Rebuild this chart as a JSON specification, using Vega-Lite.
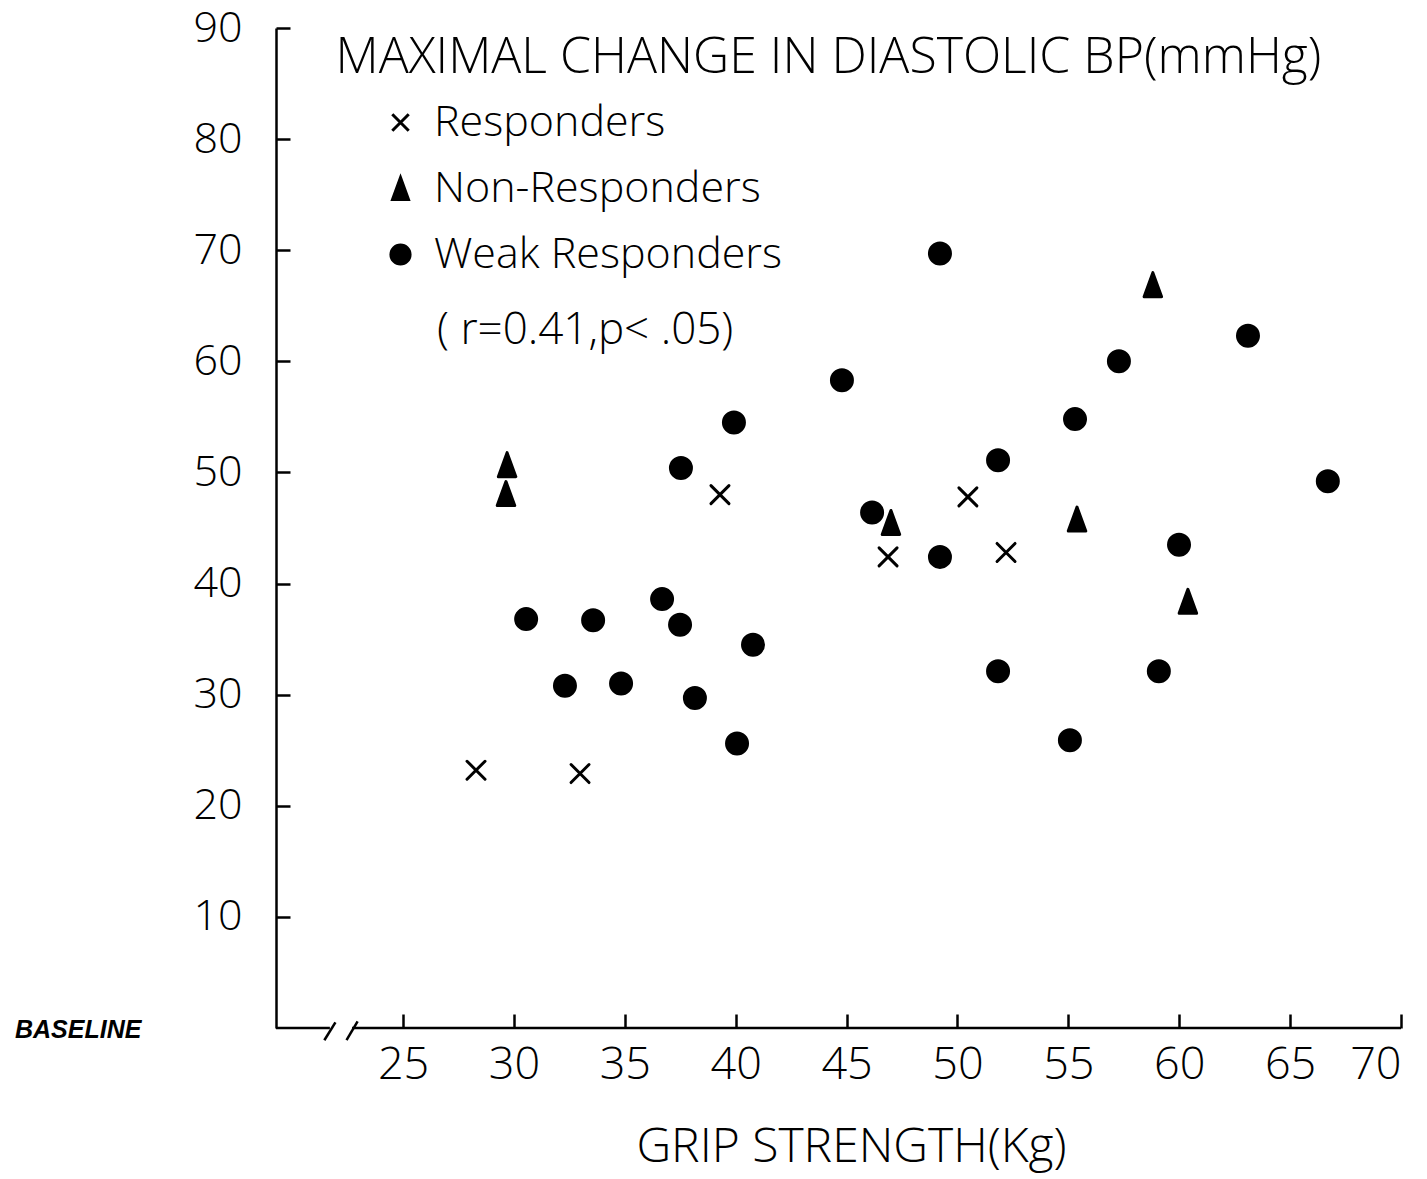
{
  "$schema": "https://vega.github.io/schema/vega-lite/v6.json",
  "width": 1125,
  "height": 1000,
  "autosize": {"type": "none"},
  "padding": {"left": 276, "top": 28, "right": 26, "bottom": 151},
  "background": "white",
  "config": {
    "view": {"stroke": null},
    "font": "Open Sans",
    "axis": {"grid": false}
  },
  "layer": [
    {
      "data": {
        "values": [
          {"grip": 28.29, "dbp": 23.2, "group": "Responders"},
          {"grip": 32.98, "dbp": 22.9, "group": "Responders"},
          {"grip": 39.29, "dbp": 48.0, "group": "Responders"},
          {"grip": 46.87, "dbp": 42.4, "group": "Responders"},
          {"grip": 50.47, "dbp": 47.8, "group": "Responders"},
          {"grip": 52.19, "dbp": 42.8, "group": "Responders"},
          {"grip": 29.69, "dbp": 50.7, "group": "Non-Responders"},
          {"grip": 29.64, "dbp": 48.1, "group": "Non-Responders"},
          {"grip": 47.0, "dbp": 45.5, "group": "Non-Responders"},
          {"grip": 58.81, "dbp": 66.9, "group": "Non-Responders"},
          {"grip": 55.39, "dbp": 45.8, "group": "Non-Responders"},
          {"grip": 60.39, "dbp": 38.4, "group": "Non-Responders"},
          {"grip": 49.21, "dbp": 69.7, "group": "Weak Responders"},
          {"grip": 44.79, "dbp": 58.3, "group": "Weak Responders"},
          {"grip": 39.92, "dbp": 54.5, "group": "Weak Responders"},
          {"grip": 37.53, "dbp": 50.4, "group": "Weak Responders"},
          {"grip": 57.28, "dbp": 60.0, "group": "Weak Responders"},
          {"grip": 63.1, "dbp": 62.3, "group": "Weak Responders"},
          {"grip": 55.3, "dbp": 54.8, "group": "Weak Responders"},
          {"grip": 51.83, "dbp": 51.1, "group": "Weak Responders"},
          {"grip": 46.15, "dbp": 46.4, "group": "Weak Responders"},
          {"grip": 49.21, "dbp": 42.4, "group": "Weak Responders"},
          {"grip": 66.7, "dbp": 49.2, "group": "Weak Responders"},
          {"grip": 59.99, "dbp": 43.5, "group": "Weak Responders"},
          {"grip": 30.55, "dbp": 36.8, "group": "Weak Responders"},
          {"grip": 33.57, "dbp": 36.7, "group": "Weak Responders"},
          {"grip": 36.68, "dbp": 38.6, "group": "Weak Responders"},
          {"grip": 37.49, "dbp": 36.3, "group": "Weak Responders"},
          {"grip": 40.78, "dbp": 34.5, "group": "Weak Responders"},
          {"grip": 32.3, "dbp": 30.8, "group": "Weak Responders"},
          {"grip": 34.83, "dbp": 31.0, "group": "Weak Responders"},
          {"grip": 38.16, "dbp": 29.7, "group": "Weak Responders"},
          {"grip": 40.06, "dbp": 25.6, "group": "Weak Responders"},
          {"grip": 51.83, "dbp": 32.1, "group": "Weak Responders"},
          {"grip": 59.08, "dbp": 32.1, "group": "Weak Responders"},
          {"grip": 55.07, "dbp": 25.9, "group": "Weak Responders"}
        ]
      },
      "mark": {
        "type": "point",
        "filled": true,
        "fill": "black",
        "strokeWidth": 3,
        "strokeJoin": "round",
        "strokeCap": "round",
        "opacity": 1,
        "size": 625
      },
      "encoding": {
        "x": {
          "field": "grip",
          "type": "quantitative",
          "scale": {"domain": [19.27, 70], "nice": false, "zero": false},
          "axis": {
            "values": [25, 30, 35, 40, 45, 50, 55, 60, 65, 70],
            "domain": false,
            "ticks": true,
            "tickSize": -14,
            "tickWidth": 2.5,
            "tickColor": "black",
            "labelFont": "Open Sans",
            "labelFontSize": 45,
            "labelFontWeight": 300,
            "labelColor": "black",
            "labelPadding": 28,
            "labelBaseline": "top",
            "title": "GRIP STRENGTH(Kg)",
            "titleFont": "Open Sans",
            "titleFontSize": 48,
            "titleFontWeight": 300,
            "titleColor": "black",
            "titleAlign": "center",
            "titleBaseline": "alphabetic",
            "titleX": 575,
            "titleY": 133
          }
        },
        "y": {
          "field": "dbp",
          "type": "quantitative",
          "scale": {"domain": [0, 90], "nice": false, "zero": false},
          "axis": {
            "values": [10, 20, 30, 40, 50, 60, 70, 80, 90],
            "domain": true,
            "domainWidth": 2.5,
            "domainColor": "black",
            "tickSize": -14,
            "tickWidth": 2.5,
            "tickColor": "black",
            "labelFont": "Open Sans",
            "labelFontSize": 43,
            "labelFontWeight": 300,
            "labelColor": "black",
            "labelPadding": 48,
            "labelBaseline": "middle",
            "title": "MAXIMAL CHANGE IN DIASTOLIC BP(mmHg)",
            "titleFont": "Open Sans",
            "titleFontSize": 50,
            "titleFontWeight": 300,
            "titleColor": "black",
            "titleAngle": 0,
            "titleAlign": "left",
            "titleBaseline": "alphabetic",
            "titleX": 59,
            "titleY": 44
          }
        },
        "stroke": {
          "field": "group",
          "type": "nominal",
          "scale": {
            "domain": ["Responders", "Non-Responders", "Weak Responders"],
            "range": ["black", "black", "black"]
          }
        },
        "shape": {
          "field": "group",
          "type": "nominal",
          "scale": {
            "domain": ["Responders", "Non-Responders", "Weak Responders"],
            "range": [
              "M-0.72,-0.72L0.72,0.72M-0.72,0.72L0.72,-0.72",
              "M0,-0.96L0.7,0.96L-0.7,0.96Z",
              "M0.84,0A0.84,0.84 0 1,1 -0.84,0A0.84,0.84 0 1,1 0.84,0Z"
            ]
          },
          "legend": {
            "orient": "none",
            "legendX": 103,
            "legendY": 73,
            "title": null,
            "padding": 0,
            "labelFont": "Open Sans",
            "labelFontSize": 43,
            "labelFontWeight": 300,
            "labelColor": "black",
            "labelLimit": 0,
            "labelOffset": 12,
            "rowPadding": 22,
            "symbolSize": 520,
            "symbolFillColor": "black",
            "symbolStrokeColor": "black",
            "symbolStrokeWidth": 3,
            "symbolOpacity": 1
          }
        }
      }
    },
    {
      "data": {
        "values": [
          {"x1": 19.27, "x2": 21.7, "y1": 0, "y2": 0},
          {"x1": 22.7, "x2": 70, "y1": 0, "y2": 0},
          {"x1": 21.45, "x2": 21.95, "y1": -1.1, "y2": 0.5},
          {"x1": 22.45, "x2": 22.95, "y1": -1.1, "y2": 0.6}
        ]
      },
      "mark": {"type": "rule", "color": "black", "strokeWidth": 2.5},
      "encoding": {
        "x": {"field": "x1", "type": "quantitative"},
        "x2": {"field": "x2"},
        "y": {"field": "y1", "type": "quantitative"},
        "y2": {"field": "y2"}
      }
    },
    {
      "data": {"values": [{"x": 10.35, "y": -0.2, "label": "BASELINE"}]},
      "mark": {
        "type": "text",
        "font": "Liberation Sans",
        "fontWeight": "bold",
        "fontStyle": "italic",
        "fontSize": 25,
        "align": "center",
        "baseline": "middle",
        "color": "black"
      },
      "encoding": {
        "x": {"field": "x", "type": "quantitative"},
        "y": {"field": "y", "type": "quantitative"},
        "text": {"field": "label"}
      }
    },
    {
      "data": {"values": [{"x": 26.53, "y": 62.7, "label": "( r=0.41,p< .05)"}]},
      "mark": {
        "type": "text",
        "font": "Open Sans",
        "fontWeight": 300,
        "fontSize": 44,
        "align": "left",
        "baseline": "middle",
        "color": "black"
      },
      "encoding": {
        "x": {"field": "x", "type": "quantitative"},
        "y": {"field": "y", "type": "quantitative"},
        "text": {"field": "label"}
      }
    }
  ]
}
